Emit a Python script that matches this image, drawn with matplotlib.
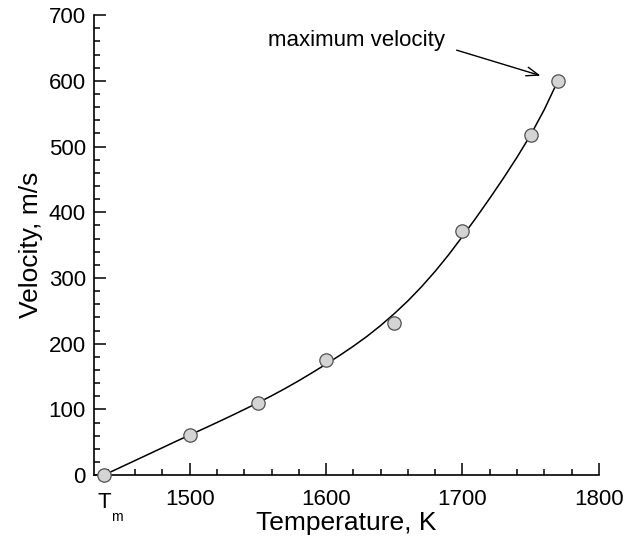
import matplotlib
matplotlib.use("Agg")
from matplotlib import pyplot as plt
from matplotlib.ticker import MultipleLocator

# measured points
temp = [1437, 1500, 1550, 1600, 1650, 1700, 1750, 1770]
vel = [0, 61, 110, 175, 232, 372, 517, 600]

# smooth fit curve
curve_t = [1437, 1450, 1470, 1490, 1500, 1510, 1520, 1530, 1540, 1550,
           1560, 1570, 1580, 1590, 1600, 1610, 1620, 1630, 1640, 1650,
           1660, 1670, 1680, 1690, 1700, 1710, 1720, 1730, 1740, 1750,
           1760, 1770]
curve_v = [0, 12.6, 32, 51.5, 61, 70.5, 80.1, 89.9, 99.9, 110.1,
           120.7, 131.9, 143.7, 156.1, 168.9, 182.2, 196.2, 211.2, 227.7, 245.7,
           265.2, 286.7, 310.2, 335.7, 363.2, 391.7, 421.2, 451.7, 483.7, 517.7,
           556.2, 600]

major_x = [1500, 1600, 1700, 1800]
major_y = [0, 100, 200, 300, 400, 500, 600, 700]

plt.rcParams["font.family"] = ["Liberation Sans", "DejaVu Sans"]

fig = plt.figure(figsize=(6.37, 5.43), dpi=100)
ax = fig.add_axes([0.148, 0.125, 0.792, 0.847])

ax.plot(curve_t, curve_v, "-", color="black", lw=1.1, zorder=2)
ax.plot(temp, vel, "o", ms=9.6, mfc="#d4d4d4", mec="#505050", mew=0.9,
        zorder=3, clip_on=False)

ax.set_xlim(1430, 1800)
ax.set_ylim(0, 700)
ax.set_xticks(major_x)
ax.set_yticks(major_y)
ax.xaxis.set_minor_locator(MultipleLocator(20))
ax.yaxis.set_minor_locator(MultipleLocator(20))
ax.tick_params(which="both", direction="in", width=1.1, labelsize=16)
ax.tick_params(which="major", length=8.4)
ax.tick_params(which="minor", length=4.3)
ax.tick_params(axis="x", which="major", pad=10)
ax.tick_params(axis="y", which="major", pad=6)
for side in ["top", "right"]:
    ax.spines[side].set_visible(False)
for side in ["left", "bottom"]:
    ax.spines[side].set_linewidth(1.2)

# T_m label under the first point
ax.annotate("T", xy=(temp[0], 0), xycoords=("data", "axes fraction"),
            xytext=(0, -12), textcoords="offset points",
            ha="center", va="top", fontsize=16)
ax.annotate("m", xy=(temp[0], 0), xycoords=("data", "axes fraction"),
            xytext=(5, -25), textcoords="offset points",
            ha="left", va="top", fontsize=10)

ax.set_xlabel("Temperature, K", fontsize=19, labelpad=1)
ax.set_ylabel("Velocity, m/s", fontsize=19, labelpad=4)

ax.annotate("maximum velocity", xy=(temp[-1], vel[-1]),
            xytext=(1622, 662), textcoords="data",
            fontsize=16, ha="center", va="center",
            arrowprops=dict(arrowstyle="->,head_length=0.55,head_width=0.2",
                            color="black", lw=1.0, relpos=(1.0, 0.2),
                            shrinkA=7, shrinkB=13))

fig.savefig("out.png", dpi=100)
